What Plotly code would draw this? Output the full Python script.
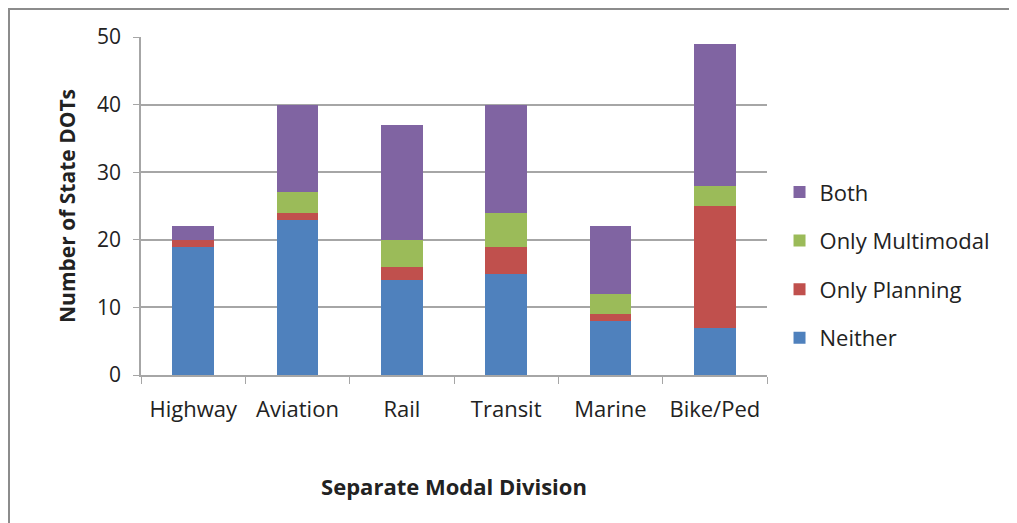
import plotly.graph_objects as go

categories = ["Highway", "Aviation", "Rail", "Transit", "Marine", "Bike/Ped"]
neither = [19, 23, 14, 15, 8, 7]
only_planning = [1, 1, 2, 4, 1, 18]
only_multimodal = [0, 3, 4, 5, 3, 3]
both = [2, 13, 17, 16, 10, 21]

series = [
    ("Neither", neither, "#4F81BD"),
    ("Only Planning", only_planning, "#C0504D"),
    ("Only Multimodal", only_multimodal, "#9BBB59"),
    ("Both", both, "#8064A2"),
]

FONT = "'Open Sans', sans-serif"

fig = go.Figure()
for i, (name, vals, color) in enumerate(series):
    fig.add_trace(go.Bar(
        x=categories, y=vals, name=name, marker_color=color,
        marker_line_width=0, legendgroup=name, legendrank=1000 - i,
    ))

# page has an 8px body margin; plot area target (page coords) x 141..767, y 37..375
L, T, W, H = 133, 29, 626, 338
fig.update_layout(
    barmode="stack",
    bargap=0.6,
    width=1017, height=523,
    paper_bgcolor="white", plot_bgcolor="white",
    margin=dict(l=L, r=1017 - L - W, t=T, b=523 - T - H),
    font=dict(family=FONT, size=20, color="#222"),
    legend=dict(
        traceorder="grouped", x=1.02, xanchor="left", y=0.325, yanchor="middle",
        font=dict(size=22, family=FONT), tracegroupgap=17,
        itemwidth=30,
    ),
    shapes=[dict(type="rect", xref="paper", yref="paper",
                 x0=(1 - L) / W, x1=1.6, y0=-0.6, y1=(T + H - 1) / H,
                 line=dict(color="#8C8C8C", width=2))],
    showlegend=True,
)
fig.update_yaxes(
    range=[0, 50], dtick=10, showgrid=True, gridcolor="#A6A6A6", gridwidth=1.5,
    showline=True, linecolor="#A6A6A6", linewidth=1.5,
    ticks="outside", ticklen=6, tickcolor="#A6A6A6", ticklabelstandoff=8,
    tickfont=dict(size=21, family=FONT),
    title=dict(text="<b>Number of State DOTs</b>", font=dict(size=21, family=FONT), standoff=16),
    zeroline=False,
)
fig.update_xaxes(
    showline=True, linecolor="#A6A6A6", linewidth=1.5,
    ticks="outside", ticklen=7, tickcolor="#A6A6A6", tickson="boundaries",
    ticklabelstandoff=14,
    tickfont=dict(size=22, family=FONT),
    title=dict(text="<b>Separate Modal Division</b>", font=dict(size=22, family=FONT), standoff=57),
)
fig.write_html("out.html")
